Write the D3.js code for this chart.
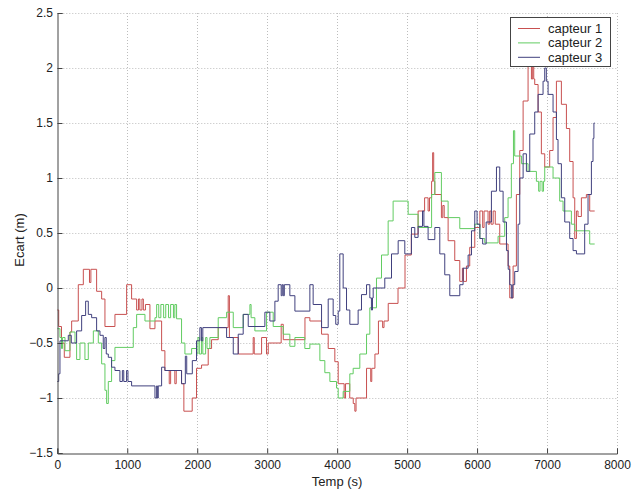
<!DOCTYPE html>
<html>
<head>
<meta charset="utf-8">
<script src="https://cdn.jsdelivr.net/npm/d3@7/dist/d3.min.js"></script>
<style>
  body { margin: 0; background: #fff; }
  svg text { font-family: Arial, "Liberation Sans", sans-serif; fill: #222; }
</style>
</head>
<body>
<svg id="chart" width="632" height="490"></svg>
<script>
// steps: [temps (s), ecart (m)]
const capteur1 = [[0,-0.2],[20,-0.35],[60,-0.5],[100,-0.63],[181,-0.4],[205,-0.3],[300,0.03],[372,0.17],[460,0.05],[480,0.17],[562,-0.03],[634,-0.1],[681,-0.35],[824,-0.24],[991,0.03],[1062,-0.1],[1134,-0.2],[1160,-0.1],[1180,-0.2],[1210,-0.1],[1230,-0.2],[1260,-0.15],[1324,-0.37],[1396,-0.3],[1491,-0.57],[1538,-0.75],[1600,-0.87],[1620,-0.75],[1680,-0.87],[1700,-0.75],[1776,-0.87],[1809,-1.12],[1928,-1.0],[1990,-0.73],[2062,-0.7],[2157,-0.55],[2205,-0.47],[2300,-0.36],[2443,-0.07],[2460,-0.45],[2586,-0.6],[2800,-0.45],[2815,-0.6],[2920,-0.45],[2990,-0.6],[3015,-0.5],[3200,-0.33],[3230,-0.47],[3540,-0.27],[3610,-0.3],[3777,-0.42],[3872,-0.55],[3967,-0.67],[4015,-0.87],[4100,-1.0],[4120,-0.87],[4180,-1.0],[4230,-1.05],[4253,-1.12],[4270,-1.0],[4420,-0.73],[4480,-0.85],[4495,-0.73],[4540,-0.6],[4590,-0.3],[4650,-0.36],[4670,-0.3],[4730,-0.14],[4870,0],[4970,0.3],[5060,0.49],[5157,0.7],[5250,0.82],[5300,0.7],[5320,0.82],[5350,0.97],[5365,1.23],[5380,0.97],[5396,0.85],[5490,0.64],[5510,0.75],[5530,0.64],[5586,0.43],[5681,0.25],[5753,0.06],[5790,0.18],[5805,0.06],[5848,0.2],[5895,0.37],[5967,0.55],[6040,0.7],[6080,0.55],[6100,0.7],[6157,0.58],[6180,0.7],[6200,0.58],[6230,0.7],[6260,0.58],[6324,0.4],[6443,0.2],[6467,-0.09],[6515,0.2],[6562,0.85],[6610,1.25],[6658,1.7],[6729,2.03],[6777,1.9],[6795,2.03],[6810,1.9],[6824,1.85],[6872,1.6],[6919,1.22],[6967,1.1],[7038,1.25],[7086,1.55],[7134,1.88],[7205,1.67],[7277,1.45],[7324,1.15],[7372,0.82],[7396,0.45],[7420,0.7],[7443,0.65],[7491,0.82],[7562,0.85],[7610,0.7],[7681,0.7]];

const capteur2 = [[0,-0.37],[38,-0.45],[60,-0.55],[75,-0.45],[110,-0.57],[181,-0.4],[253,-0.5],[276,-0.65],[324,-0.5],[395,-0.65],[443,-0.5],[515,-0.39],[586,-0.5],[634,-0.69],[681,-0.93],[705,-1.05],[729,-0.85],[776,-0.66],[824,-0.54],[1086,-0.36],[1134,-0.24],[1253,-0.3],[1396,-0.27],[1420,-0.15],[1450,-0.27],[1480,-0.15],[1520,-0.27],[1550,-0.15],[1590,-0.27],[1620,-0.15],[1660,-0.27],[1680,-0.15],[1705,-0.28],[1776,-0.5],[1824,-0.6],[1920,-0.55],[1990,-0.6],[2010,-0.45],[2030,-0.6],[2060,-0.45],[2080,-0.6],[2120,-0.45],[2140,-0.55],[2181,-0.45],[2300,-0.27],[2420,-0.22],[2515,-0.36],[2657,-0.24],[2753,-0.15],[2770,-0.27],[2824,-0.39],[2991,-0.22],[3086,-0.35],[3229,-0.42],[3324,-0.53],[3396,-0.45],[3538,-0.55],[3610,-0.51],[3753,-0.66],[3824,-0.77],[3896,-0.85],[3991,-0.91],[4015,-1.0],[4086,-0.94],[4181,-0.78],[4229,-0.73],[4324,-0.6],[4420,-0.42],[4467,-0.18],[4562,0.09],[4634,0.3],[4729,0.61],[4800,0.79],[5015,0.67],[5157,0.55],[5350,0.85],[5396,1.05],[5490,0.79],[5586,0.64],[5753,0.54],[5967,0.58],[6040,0.45],[6110,0.41],[6300,0.47],[6395,0.64],[6443,0.82],[6490,1.13],[6520,1.43],[6538,1.2],[6634,1.13],[6729,1.06],[6848,0.97],[6880,0.88],[6900,0.97],[6930,0.88],[6950,0.97],[6967,1.1],[7086,1.0],[7181,0.79],[7229,0.7],[7348,0.58],[7396,0.52],[7610,0.4],[7681,0.4]];

const capteur3 = [[0,-0.85],[20,-0.78],[38,-0.48],[157,-0.43],[200,-0.5],[276,-0.39],[348,-0.25],[405,-0.12],[443,-0.24],[491,-0.27],[562,-0.39],[610,-0.43],[657,-0.55],[680,-0.45],[700,-0.6],[729,-0.63],[776,-0.72],[824,-0.75],[895,-0.85],[930,-0.75],[950,-0.85],[990,-0.75],[1010,-0.85],[1062,-0.89],[1396,-1.0],[1420,-0.89],[1430,-1.0],[1443,-0.89],[1491,-0.72],[1538,-0.75],[1776,-0.87],[1830,-0.62],[1850,-0.78],[1930,-0.66],[1990,-0.48],[2038,-0.36],[2060,-0.48],[2080,-0.36],[2420,-0.45],[2515,-0.6],[2586,-0.42],[2657,-0.24],[2729,-0.35],[2967,-0.22],[3038,-0.3],[3110,-0.12],[3157,0.03],[3200,-0.07],[3215,0.03],[3230,-0.07],[3245,0.03],[3324,-0.07],[3396,-0.21],[3610,0.03],[3657,-0.15],[3777,-0.36],[3872,-0.1],[3943,-0.25],[3980,-0.33],[4015,-0.21],[4038,0.31],[4086,0],[4134,-0.2],[4181,-0.33],[4300,-0.2],[4348,-0.06],[4420,0.03],[4467,-0.09],[4490,-0.2],[4505,-0.09],[4515,0],[4681,0.09],[4777,0.31],[4872,0.43],[4967,0.31],[5062,0.55],[5110,0.46],[5157,0.56],[5220,0.7],[5240,0.56],[5300,0.44],[5396,0.55],[5467,0.31],[5538,0.12],[5610,-0.07],[5753,0.03],[5800,0.18],[5872,0.3],[5920,0.52],[5967,0.7],[6000,0.58],[6040,0.45],[6080,0.4],[6130,0.6],[6205,0.88],[6277,1.1],[6324,0.88],[6372,0.6],[6420,0.34],[6445,0.17],[6467,0.03],[6490,-0.09],[6510,0.03],[6538,0.15],[6586,0.58],[6610,1.0],[6658,1.22],[6705,1.06],[6753,1.4],[6824,1.6],[6872,1.76],[6943,1.88],[6967,2.0],[6990,1.88],[7015,1.76],[7086,1.6],[7134,1.35],[7157,1.13],[7205,0.82],[7253,0.6],[7324,0.45],[7372,0.34],[7420,0.31],[7538,0.58],[7586,0.85],[7634,1.15],[7657,1.36],[7670,1.5],[7681,1.5]];

const seriesNames = ["capteur 1", "capteur 2", "capteur 3"];
const seriesColors = ["#c85050", "#62cc62", "#40407e"];
const xTicks = [0, 1000, 2000, 3000, 4000, 5000, 6000, 7000, 8000];
const yTicks = [-1.5, -1, -0.5, 0, 0.5, 1, 1.5, 2, 2.5];

const margin = {left: 57.3, right: 617, top: 13, bottom: 453};

let svg = d3.select("#chart");
let x = d3.scaleLinear().domain([0, 8000]).range([margin.left, margin.right]);
let y = d3.scaleLinear().domain([-1.5, 2.5]).range([margin.bottom, margin.top]);

// grid (dotted, MATLAB style)
let grid = svg.append("g").attr("class", "grid")
  .attr("stroke", "#bdbdbd").attr("stroke-width", 1).attr("stroke-dasharray", "1,2");
grid.selectAll("line.gx").data(xTicks.slice(1)).enter().append("line")
  .attr("x1", d => Math.round(x(d)) + 0.5).attr("x2", d => Math.round(x(d)) + 0.5)
  .attr("y1", margin.top).attr("y2", margin.bottom);
grid.selectAll("line.gy").data(yTicks.slice(1)).enter().append("line")
  .attr("y1", d => Math.round(y(d)) + 0.5).attr("y2", d => Math.round(y(d)) + 0.5)
  .attr("x1", margin.left).attr("x2", margin.right);

// series
let line = d3.line()
  .x(d => x(d[0]))
  .y(d => y(d[1]))
  .curve(d3.curveStepAfter);

[capteur1, capteur2, capteur3].forEach((data, i) => {
  svg.append("path")
    .datum(data)
    .attr("fill", "none")
    .attr("stroke", seriesColors[i])
    .attr("stroke-width", 1)
    .attr("d", line);
});

// axes
let xAxis = d3.axisBottom(x).tickValues(xTicks).tickSize(-5).tickPadding(7).tickFormat(d3.format("d"));
let yAxis = d3.axisLeft(y).tickValues(yTicks).tickSize(-5).tickPadding(4.5).tickFormat(d => d3.format("")(d));

svg.append("g").attr("transform", `translate(0,${Math.round(margin.bottom) + 0.5})`).call(xAxis)
  .call(g => g.selectAll("text").attr("font-size", 12).attr("fill", "#222"))
  .call(g => g.selectAll("line, path").attr("stroke", "#444"));
svg.append("g").attr("transform", `translate(${Math.round(margin.left) + 0.5},0)`).call(yAxis)
  .call(g => g.selectAll("text").attr("font-size", 12).attr("fill", "#222"))
  .call(g => g.selectAll("line, path").attr("stroke", "#444"));

svg.append("text")
  .attr("x", x(4000)).attr("y", 486)
  .attr("text-anchor", "middle").attr("font-size", 13)
  .text("Temp (s)");

svg.append("text")
  .attr("transform", "translate(24,240) rotate(-90)")
  .attr("text-anchor", "middle").attr("font-size", 13)
  .text("Ecart (m)");

// legend
let legend = svg.append("g").attr("class", "legend");
legend.append("rect")
  .attr("x", 510.5).attr("y", 17.5).attr("width", 100).attr("height", 49)
  .attr("fill", "#fff").attr("stroke", "#444");
let item = legend.selectAll("g.item").data(seriesNames).enter().append("g")
  .attr("transform", (d, i) => `translate(0,${28 + i * 14.4})`);
item.append("line")
  .attr("x1", 518).attr("x2", 540).attr("y1", 0.5).attr("y2", 0.5)
  .attr("stroke", (d, i) => seriesColors[i]);
item.append("text")
  .attr("x", 548).attr("y", 5).attr("font-size", 13)
  .text(d => d);
</script>
</body>
</html>
